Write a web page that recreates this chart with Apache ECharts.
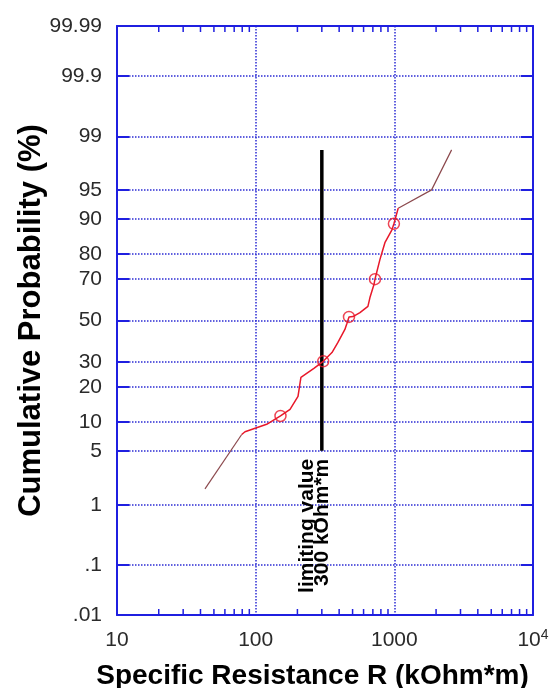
<!DOCTYPE html>
<html>
<head>
<meta charset="utf-8">
<script src="https://cdn.jsdelivr.net/npm/echarts@6/dist/echarts.min.js"></script>
<style>
  html, body { margin: 0; padding: 0; background: #ffffff; }
  #chart { width: 554px; height: 688px; }
</style>
</head>
<body>
<div id="chart"></div>
<script>
// Probability-scale ticks (%) and how they are printed
const probTicks = [0.01, 0.1, 1, 5, 10, 20, 30, 50, 70, 80, 90, 95, 99, 99.9, 99.99];
const probTickLabels = ['.01', '.1', '1', '5', '10', '20', '30', '50', '70', '80', '90', '95', '99', '99.9', '99.99'];

// Resistance axis (kOhm*m): decades and the in-between minor ticks
const resistanceDecades = [10, 100, 1000, 10000];
const resistanceMinor = [20, 30, 40, 50, 60, 70, 80, 90,
                         200, 300, 400, 500, 600, 700, 800, 900,
                         2000, 3000, 4000, 5000, 6000, 7000, 8000, 9000];

// Empirical distribution of specific resistance
const curveR = [79.3, 83.8, 120, 151, 177, 202, 212, 263, 307, 355, 392, 440, 455, 471,
                503, 565, 645, 667, 713, 725, 787, 814, 855, 961, 993, 1067];
const curveP = [7.5, 8.0, 9.5, 11.4, 13.1, 16.9, 23.6, 27.3, 30.3, 34.3, 39.1, 45.5, 48.5, 51.8,
                52.0, 54.0, 57.1, 61.4, 67.5, 69.9, 77.9, 80.4, 83.7, 87.4, 88.9, 92.2];
// Sparse tails of the distribution
const lowTailR = [43.1, 79.3];
const lowTailP = [1.67, 7.5];
const highTailR = [1067, 1857, 2588];
const highTailP = [92.2, 95.05, 98.44];

// Highlighted quantile points
const markerR = [151, 307, 471, 725, 993];
const markerP = [11.4, 30.3, 51.8, 69.9, 88.9];

// Limiting value
const limitR = 300;
const limitP = [5, 98.44];
const limitText = ['limiting value', '300 kOhm*m'];

// Inverse of the standard normal CDF (Acklam), input in percent
function probit(pct) {
  const p = pct / 100;
  const a = [-3.969683028665376e+01, 2.209460984245205e+02, -2.759285104469687e+02,
             1.383577518672690e+02, -3.066479806614716e+01, 2.506628277459239e+00];
  const b = [-5.447609879822406e+01, 1.615858368580409e+02, -1.556989798598866e+02,
             6.680131188771972e+01, -1.328068155288572e+01];
  const c = [-7.784894002430293e-03, -3.223964580411365e-01, -2.400758277161838e+00,
             -2.549732539343734e+00, 4.374664141464968e+00, 2.938163982698783e+00];
  const d = [7.784695709041462e-03, 3.224671290700398e-01, 2.445134137142996e+00,
             3.754408661907416e+00];
  const pl = 0.02425;
  let q, r;
  if (p < pl) {
    q = Math.sqrt(-2 * Math.log(p));
    return (((((c[0]*q+c[1])*q+c[2])*q+c[3])*q+c[4])*q+c[5]) /
           ((((d[0]*q+d[1])*q+d[2])*q+d[3])*q+1);
  }
  if (p > 1 - pl) {
    q = Math.sqrt(-2 * Math.log(1 - p));
    return -(((((c[0]*q+c[1])*q+c[2])*q+c[3])*q+c[4])*q+c[5]) /
            ((((d[0]*q+d[1])*q+d[2])*q+d[3])*q+1);
  }
  q = p - 0.5; r = q * q;
  return (((((a[0]*r+a[1])*r+a[2])*r+a[3])*r+a[4])*r+a[5])*q /
         (((((b[0]*r+b[1])*r+b[2])*r+b[3])*r+b[4])*r+1);
}

const zTicks = probTicks.map(probit);
const zMin = zTicks[0];
const zMax = zTicks[zTicks.length - 1];

function probLabel(z) {
  for (let i = 0; i < zTicks.length; i++) {
    if (Math.abs(zTicks[i] - z) < 1e-6) return probTickLabels[i];
  }
  return '';
}
function pairs(xs, ps) { return xs.map((x, i) => [x, probit(ps[i])]); }

const BLUE = '#1f1fe0';
const GRID_BLUE = '#2c2cd4';
const RED = '#e8182a';
const TAIL = '#8c4a4e';

const chart = echarts.init(document.getElementById('chart'), null, { renderer: 'canvas' });

const option = {
  backgroundColor: '#ffffff',
  animation: false,
  grid: { left: 117, right: 21, top: 26, bottom: 73, containLabel: false, outerBoundsMode: 'none' },
  xAxis: [
    {
      type: 'log', logBase: 10, min: resistanceDecades[0], max: resistanceDecades[resistanceDecades.length - 1],
      position: 'bottom',
      name: 'Specific Resistance R (kOhm*m)',
      nameLocation: 'middle', nameGap: 47, nameMoveOverlap: false,
      nameTextStyle: { fontFamily: 'Liberation Sans', fontWeight: 'bold', fontSize: 28, color: '#000', padding: [0, 25, 0, 0] },
      axisLine: { show: true, onZero: false, lineStyle: { color: BLUE, width: 2 } },
      axisTick: { show: false },
      splitLine: { show: true, lineStyle: { color: GRID_BLUE, type: 'dotted', width: 1.5 } },
      axisLabel: {
        margin: 13,
        fontFamily: 'Liberation Sans', fontSize: 21, color: '#2a2a2a',
        formatter: function (v) {
          if (v >= 10000) return '{b|10}{s|4}';
          return '{b|' + v + '}';
        },
        rich: {
          b: { fontFamily: 'Liberation Sans', fontSize: 21, color: '#2a2a2a', lineHeight: 24 },
          s: { fontFamily: 'Liberation Sans', fontSize: 14, color: '#2a2a2a', lineHeight: 14, verticalAlign: 'top' }
        }
      }
    },
    {
      type: 'log', logBase: 10, min: resistanceDecades[0], max: resistanceDecades[resistanceDecades.length - 1],
      position: 'top',
      axisLine: { show: true, onZero: false, lineStyle: { color: BLUE, width: 2 } },
      axisTick: { show: false },
      axisLabel: { show: false },
      splitLine: { show: false }
    }
  ],
  yAxis: [
    {
      type: 'value', min: zMin, max: zMax, position: 'left',
      name: 'Cumulative Probability (%)',
      nameLocation: 'middle', nameGap: 70, nameMoveOverlap: false,
      nameTextStyle: { fontFamily: 'Liberation Sans', fontWeight: 'bold', fontSize: 31, color: '#000' },
      axisLine: { show: true, onZero: false, lineStyle: { color: BLUE, width: 2 } },
      axisTick: { show: true, inside: true, length: 12, customValues: zTicks, lineStyle: { color: BLUE, width: 2 } },
      axisLabel: {
        customValues: zTicks, margin: 15,
        padding: [0, 0, 7, 0],
        fontFamily: 'Liberation Sans', fontSize: 21, color: '#2a2a2a',
        formatter: probLabel
      },
      splitLine: { show: true, lineStyle: { color: GRID_BLUE, type: 'dotted', width: 1.5 } }
    },
    {
      type: 'value', min: zMin, max: zMax, position: 'right',
      axisLine: { show: true, onZero: false, lineStyle: { color: BLUE, width: 2 } },
      axisTick: { show: true, inside: true, length: 12, customValues: zTicks, lineStyle: { color: BLUE, width: 2 } },
      axisLabel: { show: false },
      splitLine: { show: false }
    }
  ],
  series: [
    {
      // minor decade ticks along top and bottom frame
      type: 'custom',
      xAxisIndex: 0, yAxisIndex: 0,
      silent: true, clip: false, z: 5,
      data: resistanceMinor.map(v => [v]),
      encode: { x: 0 },
      renderItem: function (params, api) {
        const x = api.coord([api.value(0), 0])[0];
        const cs = params.coordSys;
        const style = { stroke: BLUE, lineWidth: 1.5 };
        return {
          type: 'group',
          children: [
            { type: 'line', shape: { x1: x, y1: cs.y + cs.height, x2: x, y2: cs.y + cs.height - 6 }, style: style },
            { type: 'line', shape: { x1: x, y1: cs.y, x2: x, y2: cs.y + 6 }, style: style }
          ]
        };
      }
    },
    {
      name: 'limit', type: 'line',
      data: [[limitR, probit(limitP[0])], [limitR, probit(limitP[1])]],
      symbol: 'none',
      lineStyle: { color: '#000', width: 3.5 },
      z: 3,
      markPoint: {
        symbol: 'circle', symbolSize: 0,
        data: [{ coord: [limitR, probit(limitP[0])] }],
        label: {
          show: true,
          formatter: limitText.join('\n'),
          position: 'inside',
          rotate: 90,
          align: 'right', verticalAlign: 'middle',
          offset: [-8, -7],
          fontFamily: 'Liberation Sans', fontWeight: 'bold', fontSize: 21, lineHeight: 15, color: '#000'
        }
      }
    },
    {
      name: 'low tail', type: 'line', data: pairs(lowTailR, lowTailP),
      symbol: 'none', lineStyle: { color: TAIL, width: 1.2 }, z: 4
    },
    {
      name: 'high tail', type: 'line', data: pairs(highTailR, highTailP),
      symbol: 'none', lineStyle: { color: TAIL, width: 1.2 }, z: 4
    },
    {
      name: 'distribution', type: 'line', data: pairs(curveR, curveP),
      symbol: 'none', lineStyle: { color: RED, width: 1.5 }, z: 4
    },
    {
      name: 'quantiles', type: 'scatter', data: pairs(markerR, markerP),
      symbol: 'circle', symbolSize: 11,
      itemStyle: { color: 'rgba(0,0,0,0)', borderColor: RED, borderWidth: 1.5 }, z: 6
    }
  ]
};

chart.setOption(option);
</script>
</body>
</html>
